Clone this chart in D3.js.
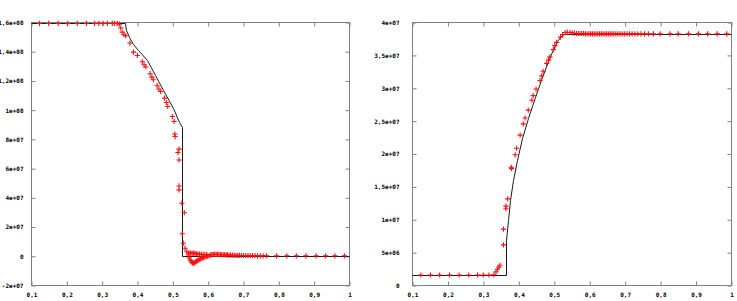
<!DOCTYPE html>
<html><head><meta charset="utf-8">
<script src="https://cdn.jsdelivr.net/npm/d3@7"></script>
<style>body{margin:0;background:#fff}svg{display:block}</style>
</head><body>
<svg id="c" width="737" height="301"></svg>
<script>
// ---------- Data ----------
const xTicks = [0.1,0.2,0.3,0.4,0.5,0.6,0.7,0.8,0.9,1];
const xTickLabels = ["0,1","0,2","0,3","0,4","0,5","0,6","0,7","0,8","0,9","1"];

const leftYTicks = [-2e7,0,2e7,4e7,6e7,8e7,1e8,1.2e8,1.4e8,1.6e8];
const leftYTickLabels = ["-2e+07","0","2e+07","4e+07","6e+07","8e+07","1e+08","1,2e+08","1,4e+08","1,6e+08"];
const rightYTicks = [0,5e6,1e7,1.5e7,2e7,2.5e7,3e7,3.5e7,4e7];
const rightYTickLabels = ["0","5e+06","1e+07","1,5e+07","2e+07","2,5e+07","3e+07","3,5e+07","4e+07"];

// left panel: exact solution (line)
const leftLineX = [0.1,0.366,0.370,0.377,0.389,0.404,0.427,0.451,0.474,0.503,0.520,0.526,0.526,1.0];
const leftLineY = [15.9e7,15.9e7,15.47e7,14.99e7,14.51e7,14.10e7,13.42e7,12.39e7,11.36e7,10.11e7,9.19e7,8.78e7,0,0];
// left panel: numerical solution (points)
const leftPtsX = [0.124,0.150,0.177,0.204,0.231,0.257,0.280,0.292,0.304,0.316,0.330,0.336,0.344,0.350,
 0.354,0.358,0.363,0.368,0.380,0.390,0.401,0.415,0.420,0.425,0.437,0.442,0.446,0.457,0.462,0.467,0.478,0.483,0.487,0.500,0.505,0.507,0.508,0.519,0.516,0.519,0.519,0.519,0.527,0.534,0.528,0.531,0.536,0.541,0.545,
 0.548,0.551,0.554,0.557,0.560,0.563,0.566,0.569,0.572,0.576,0.580,0.584,0.588,0.592,0.596,0.600,0.604,
 0.547,0.552,0.556,0.560,0.564,0.568,0.572,0.577,0.582,0.587,0.592,0.597,
 0.608,0.612,0.616,0.620,0.624,0.628,0.632,0.636,0.640,0.644,0.648,0.652,0.656,0.660,0.665,0.670,0.675,0.680,0.685,0.690,0.696,0.702,0.708,0.714,0.720,0.727,0.734,0.741,0.749,0.757,
 0.767,0.795,0.824,0.851,0.878,0.907,0.934,0.960,0.987];
const leftPtsY = [15.9e7,15.9e7,15.9e7,15.9e7,15.9e7,15.9e7,15.9e7,15.9e7,15.9e7,15.9e7,15.9e7,15.9e7,15.9e7,15.85e7,
 15.59e7,15.31e7,15.13e7,15.06e7,14.56e7,13.94e7,13.71e7,13.28e7,13.07e7,12.92e7,12.46e7,12.23e7,12.05e7,11.64e7,11.41e7,11.24e7,10.79e7,10.49e7,10.22e7,9.53e7,9.19e7,8.33e7,8.16e7,7.30e7,7.07e7,6.56e7,4.78e7,4.51e7,3.60e7,2.95e7,1.51e7,0.86e7,0.52e7,0.28e7,0.05e7,
 -0.15e7,-0.30e7,-0.42e7,-0.49e7,-0.50e7,-0.47e7,-0.42e7,-0.37e7,-0.32e7,-0.26e7,-0.21e7,-0.16e7,-0.12e7,-0.09e7,-0.06e7,-0.03e7,-0.01e7,
 0.20e7,0.18e7,0.16e7,0.18e7,0.15e7,0.14e7,0.12e7,0.11e7,0.10e7,0.09e7,0.08e7,0.08e7,
 0.06e7,0.08e7,0.09e7,0.10e7,0.10e7,0.09e7,0.09e7,0.08e7,0.08e7,0.07e7,0.07e7,0.06e7,0.06e7,0.05e7,0.05e7,0.04e7,0.04e7,0.03e7,0.03e7,0.03e7,0.02e7,0.02e7,0.02e7,0.01e7,0.01e7,0.01e7,0.01e7,0,0,0,
 0,0,0,0,0,0,0,0,0];

// right panel: exact solution (line)
const rightLineX = [0.1,0.365,0.365,0.366,0.371,0.376,0.385,0.396,0.410,0.427,0.447,0.467,0.489,0.509,0.520,0.529,1.0];
const rightLineY = [1.52e6,1.52e6,1.52e6,6.84e6,9.89e6,1.293e7,1.597e7,1.901e7,2.236e7,2.540e7,2.859e7,3.164e7,3.483e7,3.711e7,3.787e7,3.82e7,3.82e7];
// right panel: numerical solution (points)
const rightPtsX = [0.125,0.152,0.178,0.206,0.233,0.260,0.285,0.301,0.317,0.331,
 0.337,0.341,0.345,0.348,0.358,0.358,0.365,0.365,0.370,0.380,0.381,0.391,0.395,0.405,0.414,0.419,0.428,0.438,0.442,0.450,0.461,0.466,0.470,0.480,0.485,0.489,0.499,0.503,0.508,0.519,0.525,0.532,0.538,0.546,0.552,0.558,
 0.564,0.569,0.574,0.579,0.584,0.589,0.594,0.599,0.604,0.609,0.614,0.619,0.624,0.629,0.634,0.639,0.644,0.649,0.654,0.659,0.664,0.669,0.675,0.681,0.687,0.693,0.700,0.707,0.714,0.721,0.729,0.737,0.746,0.756,0.767,0.781,
 0.800,0.828,0.851,0.880,0.908,0.934,0.961,0.988];
const rightPtsY = [1.52e6,1.52e6,1.52e6,1.52e6,1.52e6,1.52e6,1.52e6,1.52e6,1.52e6,1.55e6,
 2.0e6,2.4e6,2.7e6,3.0e6,6.1e6,8.5e6,1.16e7,1.20e7,1.31e7,1.79e7,1.77e7,1.98e7,2.08e7,2.28e7,2.45e7,2.54e7,2.66e7,2.81e7,2.88e7,2.98e7,3.11e7,3.18e7,3.25e7,3.37e7,3.42e7,3.47e7,3.58e7,3.64e7,3.69e7,3.77e7,3.81e7,3.84e7,3.845e7,3.84e7,3.835e7,3.83e7,
 3.825e7,3.825e7,3.825e7,3.825e7,3.825e7,3.82e7,3.82e7,3.82e7,3.82e7,3.82e7,3.82e7,3.82e7,3.82e7,3.82e7,3.82e7,3.82e7,3.82e7,3.82e7,3.82e7,3.82e7,3.82e7,3.82e7,3.82e7,3.82e7,3.82e7,3.82e7,3.82e7,3.82e7,3.82e7,3.82e7,3.82e7,3.82e7,3.82e7,3.82e7,3.82e7,3.82e7,
 3.82e7,3.82e7,3.82e7,3.82e7,3.82e7,3.82e7,3.82e7,3.82e7];

// ---------- Drawing ----------
const svg = d3.select("#c");
const FONT = "bold 6px 'DejaVu Sans Mono', monospace";

function panel(cfg){
  const x = d3.scaleLinear().domain([0.1,1]).range([cfg.x0,cfg.x1]);
  const y = d3.scaleLinear().domain(cfg.ydom).range([cfg.y1,cfg.y0]);
  const g = svg.append("g");
  const frameColor = "#808080";
  const px = v => Math.round(x(v))+0.5, py = v => Math.round(y(v))+0.5;

  g.append("rect").attr("x",cfg.x0+0.5).attr("y",cfg.y0+0.5)
    .attr("width",cfg.x1-cfg.x0).attr("height",cfg.y1-cfg.y0)
    .attr("fill","none").attr("stroke",frameColor).attr("stroke-width",1);

  const TL = 4;
  const styleAxis = sel => {
    sel.select(".domain").remove();
    sel.selectAll(".tick line").attr("stroke",frameColor);
    sel.selectAll(".tick text").attr("fill","#000").style("font",FONT);
  };
  g.append("g").attr("transform",`translate(0.5,${cfg.y1+0.5})`)
    .call(d3.axisBottom(x).tickValues(xTicks).tickSizeInner(-TL).tickSizeOuter(0).tickPadding(7)
      .tickFormat((d,i)=>xTickLabels[i]))
    .call(styleAxis);
  g.append("g").attr("transform",`translate(0.5,${cfg.y0+0.5})`)
    .call(d3.axisTop(x).tickValues(xTicks).tickSizeInner(-TL).tickSizeOuter(0).tickFormat(""))
    .call(styleAxis);
  g.append("g").attr("transform",`translate(${cfg.x0+0.5},0.5)`)
    .call(d3.axisLeft(y).tickValues(cfg.yticks).tickSizeInner(-TL).tickSizeOuter(0).tickPadding(cfg.ypad)
      .tickFormat((d,i)=>cfg.ylabels[i]))
    .call(styleAxis);
  g.append("g").attr("transform",`translate(${cfg.x1+0.5},0.5)`)
    .call(d3.axisRight(y).tickValues(cfg.yticks).tickSizeInner(-TL).tickSizeOuter(0).tickFormat(""))
    .call(styleAxis);

  const lineData = cfg.lx.map((d,i)=>[d,cfg.ly[i]]);
  g.append("path").datum(lineData)
    .attr("d",d3.line().x(d=>px(d[0])).y(d=>py(d[1])))
    .attr("fill","none").attr("stroke","#1a1a1a").attr("stroke-width",1);

  const pts = cfg.px.map((d,i)=>[d,cfg.py[i]]);
  const s = 2.6;
  g.append("g").selectAll("path").data(pts).join("path")
    .attr("d",d=>{const cx=x(d[0]), cy=y(d[1]);
      return `M${cx-s},${cy}H${cx+s}M${cx},${cy-s}V${cy+s}`;})
    .attr("stroke","#ff1010").attr("stroke-width",1.1).attr("fill","none");
}

panel({x0:31,x1:349,y0:22,y1:285,ydom:[-2e7,1.6e8],yticks:leftYTicks,ylabels:leftYTickLabels,ypad:8,
  lx:leftLineX,ly:leftLineY,px:leftPtsX,py:leftPtsY});
panel({x0:412,x1:731,y0:22,y1:285,ydom:[0,4e7],yticks:rightYTicks,ylabels:rightYTickLabels,ypad:13,
  lx:rightLineX,ly:rightLineY,px:rightPtsX,py:rightPtsY});
</script>
</body></html>
